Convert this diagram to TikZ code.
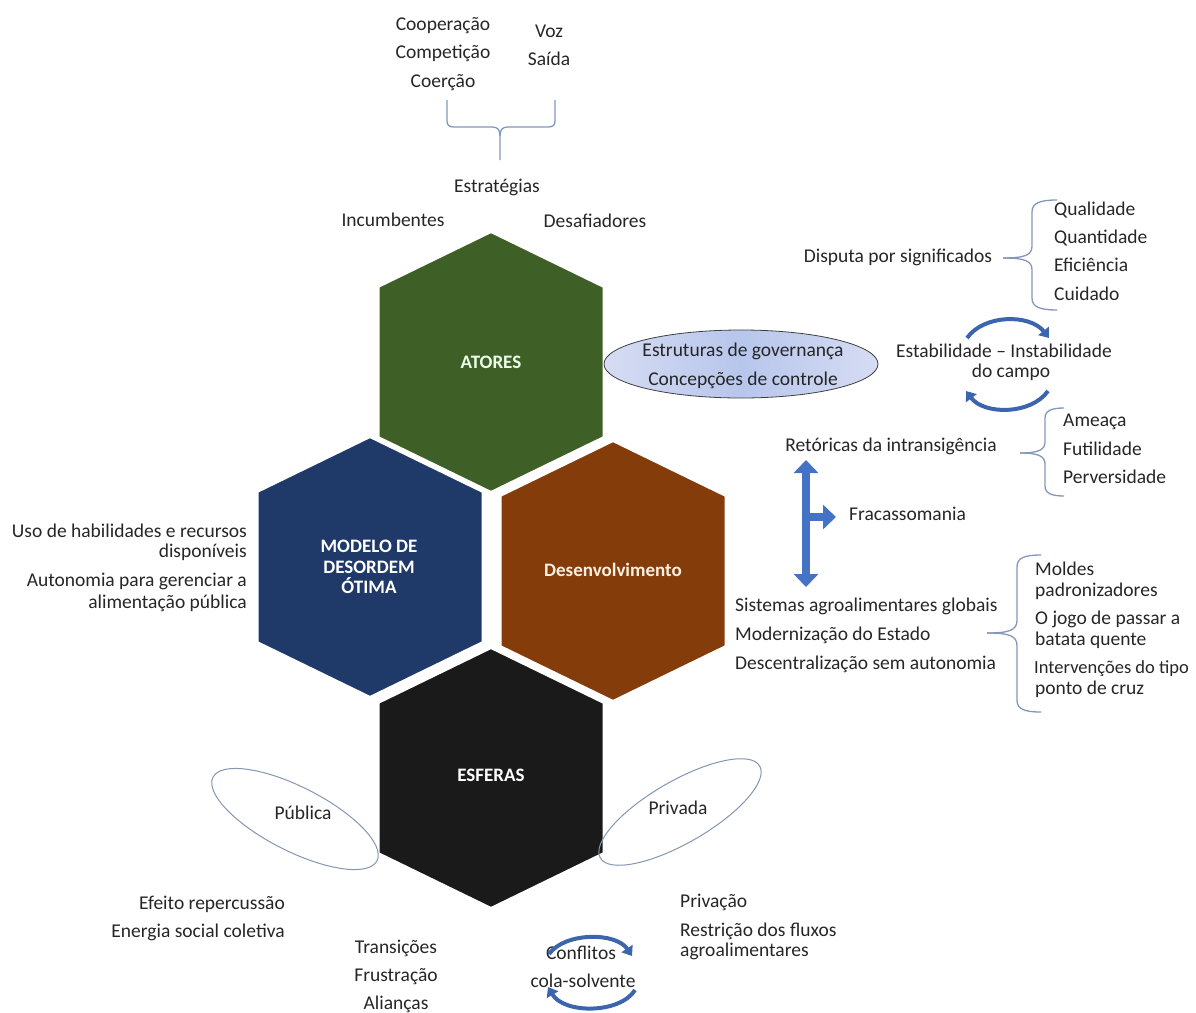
\documentclass[tikz,border=0pt]{standalone}
\usepackage{fontspec}
\setmainfont{Carlito}
\usetikzlibrary{shapes.geometric,arrows.meta}
\definecolor{textc}{HTML}{262626}
\definecolor{atoresc}{HTML}{3E5F26}
\definecolor{modeloc}{HTML}{1F3A68}
\definecolor{desenvc}{HTML}{843C0B}
\definecolor{esferasc}{HTML}{1A1A1A}
\definecolor{bracec}{HTML}{8497B8}
\definecolor{cycc}{HTML}{3B65AD}
\definecolor{bigc}{HTML}{4472C4}
\definecolor{ellc}{HTML}{8496B0}
\definecolor{govedge}{HTML}{D6DCF3}
\definecolor{govmid}{HTML}{B7C6EC}
\newcommand\hexa[2]{\path[fill=#2, draw=white, line width=3pt, line join=miter] (#1) ++(0,-130.5) -- ++(113,55) -- ++(0,151) -- ++(-113,55) -- ++(-113,-55) -- ++(0,-151) -- cycle;}
\begin{document}
\begin{tikzpicture}[x=1pt,y=-1pt,
  txt/.style={font=\fontsize{19.5}{22}\selectfont, text=textc, inner sep=0pt, text height=13pt, text depth=4pt},
  lbl/.style={font=\bfseries\fontsize{19}{20.5}\selectfont, inner sep=0pt, align=center},
  brace/.style={draw=bracec, line width=1.3pt},
  cyc/.style={draw=cycc, line width=4pt, -{Triangle[width=13pt,length=9pt]}},
  big/.style={draw=bigc, line width=8pt},
  oval/.style={ellipse, draw=ellc, line width=1pt, inner sep=0pt}]
\useasboundingbox (0,0) rectangle (1196,1012);

% hexagons
\coordinate (cA) at (491,362);
\coordinate (cM) at (370,567);
\coordinate (cD) at (613,571);
\coordinate (cE) at (491,778);
\hexa{cA}{atoresc}
\hexa{cM}{modeloc}
\hexa{cD}{desenvc}
\hexa{cE}{esferasc}
\node[lbl, text=green!8!white] (atores) at (cA) {ATORES};
\node[lbl, text=white] (modelo) at (369,567) {MODELO DE\\DESORDEM\\ÓTIMA};
\node[lbl, text=orange!12!white] (desenv) at (613,570) {Desenvolvimento};
\node[lbl, text=white] (esferas) at (491,775) {ESFERAS};

% top
\node[txt] (coop) at (443,26) {Cooperação};
\node[txt] (comp) at (443,54) {Competição};
\node[txt] (coer) at (443,83) {Coerção};
\node[txt] (voz) at (549,33) {Voz};
\node[txt] (saida) at (549,61) {Saída};
\coordinate (tb) at (500,160);
\draw[brace] (447,100) -- (447,121) .. controls (447,125) and (449,127) .. (454,127) -- (492,127) .. controls (498,127) and (500,130) .. (500,136) -- (tb);
\draw[brace] (555,100) -- (555,121) .. controls (555,125) and (553,127) .. (548,127) -- (508,127) .. controls (502,127) and (500,130) .. (500,136);
\node[txt] (estr) at (497,188) {Estratégias};
\node[txt] (inc) at (393,222) {Incumbentes};
\node[txt] (des) at (595,223) {Desafiadores};

% governance ellipse
\node[ellipse, draw=black!75, line width=0.8pt, minimum width=274pt, minimum height=68pt,
  left color=govedge, right color=govedge, middle color=govmid] (gov) at (741,364) {};
\node[txt] (gov1) at (743,352) {Estruturas de governança};
\node[txt] (gov2) at (743,381) {Concepções de controle};

% disputa
\node[txt] (disp) at (898,258) {Disputa por significados};
\coordinate (b1) at (1003,258);
\draw[brace] (b1) .. controls (1025,258) and (1032,255) .. (1032,246) -- (1032,212) .. controls (1032,203) and (1040,200) .. (1057,200);
\draw[brace] (b1) .. controls (1025,258) and (1032,261) .. (1032,270) -- (1032,298) .. controls (1032,307) and (1040,310) .. (1057,310);
\node[txt, anchor=west] (qual) at (1054,211) {Qualidade};
\node[txt, anchor=west] (quan) at (1054,239) {Quantidade};
\node[txt, anchor=west] (efic) at (1054,267) {Eficiência};
\node[txt, anchor=west] (cuid) at (1054,296) {Cuidado};

% estabilidade
\node[txt] (est1) at (1004,353) {Estabilidade – Instabilidade};
\node[txt] (est2) at (1011,373) {do campo};
\coordinate (e1a) at (967,338);
\coordinate (e1b) at (1049,338);
\coordinate (e2a) at (1048,391);
\coordinate (e2b) at (966,391);
\draw[cyc] (e1a) .. controls (984,314) and (1030,314) .. (e1b);
\draw[cyc] (e2a) .. controls (1031,415) and (984,415) .. (e2b);

% retoricas
\node[txt] (ret) at (891,447) {Retóricas da intransigência};
\coordinate (b2) at (1020,453);
\draw[brace] (b2) .. controls (1038,453) and (1045,450) .. (1045,442) -- (1045,418) .. controls (1045,411) and (1051,408) .. (1064,408);
\draw[brace] (b2) .. controls (1038,453) and (1045,456) .. (1045,464) -- (1045,486) .. controls (1045,493) and (1051,496) .. (1064,496);
\node[txt, anchor=west] (amea) at (1063,422) {Ameaça};
\node[txt, anchor=west] (futi) at (1063,451) {Futilidade};
\node[txt, anchor=west] (perv) at (1063,479) {Perversidade};

% big arrow
\coordinate (ar1) at (806,460);
\coordinate (ar2) at (806,587);
\coordinate (ar0) at (806,517);
\coordinate (ar3) at (836,517);
\draw[big, {Triangle[width=24pt,length=13pt]}-{Triangle[width=24pt,length=13pt]}] (ar1) -- (ar2);
\draw[big, -{Triangle[width=24pt,length=13pt]}] (ar0) -- (ar3);
\node[txt, anchor=west] (frac) at (849,516) {Fracassomania};

% sistemas
\node[txt, anchor=west] (sis) at (735,607) {Sistemas agroalimentares globais};
\node[txt, anchor=west] (mode) at (735,636) {Modernização do Estado};
\node[txt, anchor=west] (desc) at (735,665) {Descentralização sem autonomia};
\coordinate (b3) at (987,633);
\draw[brace] (b3) .. controls (1010,633) and (1017,630) .. (1017,620) -- (1017,567) .. controls (1017,558) and (1024,555) .. (1041,555);
\draw[brace] (b3) .. controls (1010,633) and (1017,636) .. (1017,646) -- (1017,700) .. controls (1017,709) and (1024,712) .. (1041,712);
\node[txt, anchor=west] (mol1) at (1035,571) {Moldes};
\node[txt, anchor=west] (mol2) at (1035,592) {padronizadores};
\node[txt, anchor=west] (jog1) at (1035,620) {O jogo de passar a};
\node[txt, anchor=west] (jog2) at (1035,641) {batata quente};
\node[txt, anchor=west, font=\fontsize{18.5}{22}\selectfont] (int1) at (1034,669) {Intervenções do tipo};
\node[txt, anchor=west] (int2) at (1035,690) {ponto de cruz};

% left
\node[txt, anchor=east] (uso1) at (247,533) {Uso de habilidades e recursos};
\node[txt, anchor=east] (uso2) at (247,553) {disponíveis};
\node[txt, anchor=east] (aut1) at (247,582) {Autonomia para gerenciar a};
\node[txt, anchor=east] (aut2) at (247,604) {alimentação pública};

% esferas ovals
\node[oval, minimum width=184pt, minimum height=64pt, rotate=-27] (pubov) at (295,819) {};
\node[txt] (pub) at (303,815) {Pública};
\node[oval, minimum width=184pt, minimum height=62pt, rotate=30] (privov) at (680,812) {};
\node[txt] (priv) at (678,810) {Privada};

% bottom texts
\node[txt, anchor=east] (efe) at (285,905) {Efeito repercussão};
\node[txt, anchor=east] (ene) at (285,933) {Energia social coletiva};
\node[txt] (tran) at (396,949) {Transições};
\node[txt] (frus) at (396,977) {Frustração};
\node[txt] (ali) at (396,1005) {Alianças};
\node[txt, anchor=west] (privac) at (680,903) {Privação};
\node[txt, anchor=west] (rest) at (680,932) {Restrição dos fluxos};
\node[txt, anchor=west] (agro) at (680,952) {agroalimentares};

% conflitos
\node[txt] (conf) at (581,955) {Conflitos};
\node[txt] (cola) at (583,983) {cola-solvente};
\coordinate (c1a) at (549,954);
\coordinate (c1b) at (632,956);
\coordinate (c2a) at (635,990);
\coordinate (c2b) at (548,987);
\draw[cyc] (c1a) .. controls (565,932) and (616,932) .. (c1b);
\draw[cyc] (c2a) .. controls (620,1014) and (564,1014) .. (c2b);
\end{tikzpicture}
\end{document}
